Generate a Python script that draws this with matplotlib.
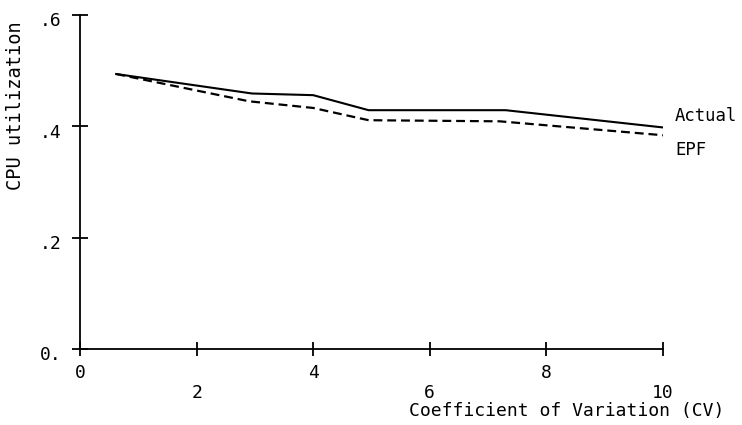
import matplotlib
matplotlib.use("Agg")
import matplotlib.pyplot as plt
from matplotlib.transforms import ScaledTranslation

# CPU utilization versus coefficient of variation
cv_actual = [0.62, 2.95, 4.0, 4.95, 7.3, 10.0]
util_actual = [0.494, 0.459, 0.456, 0.429, 0.429, 0.398]

cv_epf = [0.62, 2.9, 4.0, 4.95, 7.2, 10.0]
util_epf = [0.494, 0.445, 0.433, 0.411, 0.409, 0.384]

x_ticks = [0, 2, 4, 6, 8, 10]
x_tick_labels = ["0", "2", "4", "6", "8", "10"]
y_ticks = [0.0, 0.2, 0.4, 0.6]
y_tick_labels = ["0.", ".2", ".4", ".6"]

FONT = "DejaVu Sans Mono"
plt.rcParams["font.family"] = [FONT]

fig = plt.figure(figsize=(7.42, 4.25), dpi=100)
ax = fig.add_axes([80 / 742, 1 - 349 / 425, 583 / 742, 334 / 425])

ax.plot(cv_actual, util_actual, color="black", lw=1.5, solid_joinstyle="miter")
ax.plot(cv_epf, util_epf, color="black", lw=1.6, dashes=(4, 2.2))

ax.set_xlim(0, 10)
ax.set_ylim(0, 0.6)

for side in ("top", "right"):
    ax.spines[side].set_visible(False)
for side in ("left", "bottom"):
    ax.spines[side].set_linewidth(1.3)
    ax.spines[side].set_color("black")

ax.set_xticks(x_ticks)
ax.set_xticklabels(x_tick_labels, fontsize=13)
ax.set_yticks(y_ticks)
ax.set_yticklabels(y_tick_labels, fontsize=13)

ax.tick_params(axis="x", direction="inout", length=10.5, width=1.3, pad=5.5)
ax.tick_params(axis="y", direction="inout", length=11.5, width=1.3, pad=7.5)

# stagger the x tick labels on two rows
for i, tick in enumerate(ax.xaxis.get_major_ticks()):
    tick.set_pad(5.5 if i % 2 == 0 else 20.0)

# y labels sit a little below their ticks
shift = ScaledTranslation(0, -4.5 / 100, fig.dpi_scale_trans)
for lab in ax.get_yticklabels():
    lab.set_transform(lab.get_transform() + shift)

ax.set_ylabel("CPU utilization", fontsize=13.4, va="center")
ax.yaxis.set_label_coords(-0.11, 0.728)
ax.set_xlabel("Coefficient of Variation (CV)", fontsize=13.0, va="center")
ax.xaxis.set_label_coords(0.8345, -0.1856)

ax.annotate("Actual", xy=(cv_actual[-1], util_actual[-1]), xytext=(8.6, 8.4),
            textcoords="offset points", ha="left", va="center", fontsize=12.4)
ax.annotate("EPF", xy=(cv_epf[-1], util_epf[-1]), xytext=(8.6, -10.8),
            textcoords="offset points", ha="left", va="center", fontsize=12.4)

fig.savefig("out.png", dpi=100)
